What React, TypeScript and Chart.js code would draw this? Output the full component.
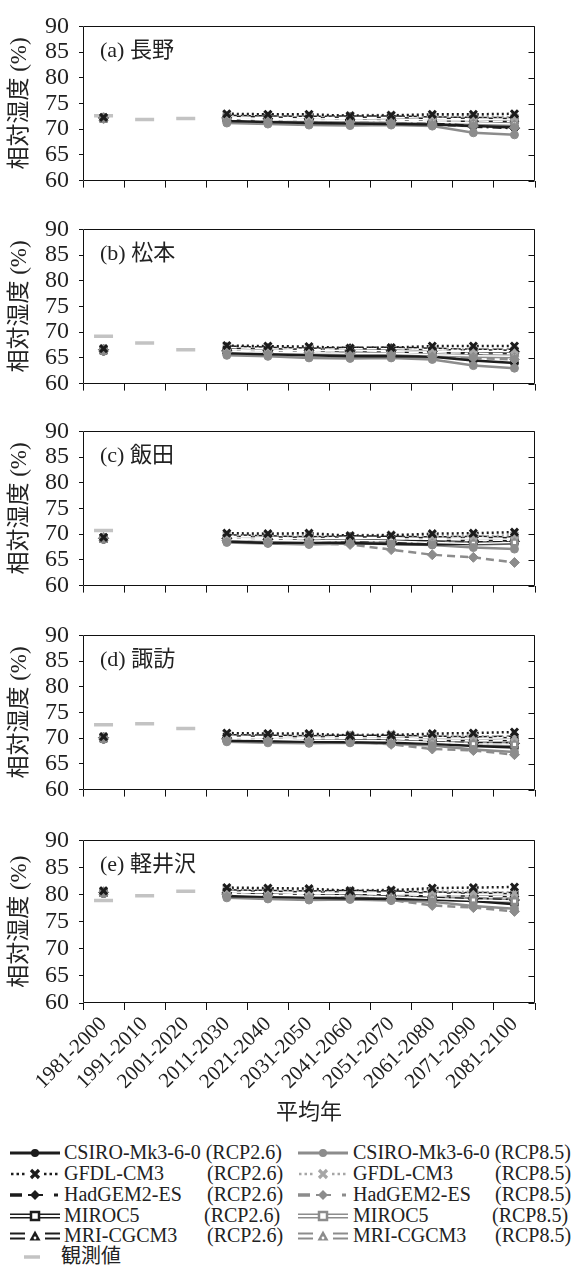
import React, { useEffect, useRef } from 'react';
import { Chart, registerables } from 'chart.js';

Chart.register(...registerables);

// ---------------- DATA ----------------
const categories = [
  '1981-2000', '1991-2010', '2001-2020', '2011-2030', '2021-2040', '2031-2050',
  '2041-2060', '2051-2070', '2061-2080', '2071-2090', '2081-2100',
];
const yTickMin = 60;
const yTickMax = 90;
const yTickStep = 5;

const panelLabels = ['(a) 長野', '(b) 松本', '(c) 飯田', '(d) 諏訪', '(e) 軽井沢'];
const modelNames = ['CSIRO-Mk3-6-0', 'GFDL-CM3', 'HadGEM2-ES', 'MIROC5', 'MRI-CGCM3'];
const obsName = '観測値';
const yTitle = '相対湿度 (%)';
const xTitle = '平均年';

// Observed values (1981-2000, 1991-2010, 2001-2020)
const naganoObs = [72.6, 71.9, 72.1];
const matsumotoObs = [69.2, 67.9, 66.6];
const iidaObs = [70.7, null, null];
const suwaObs = [72.6, 72.8, 71.9];
const karuizawaObs = [78.9, 79.8, 80.6];

// Model values: 1981-2000, then 2011-2030 ... 2081-2100
// row order: CSIRO 2.6, CSIRO 8.5, GFDL 2.6, GFDL 8.5, HadGEM 2.6, HadGEM 8.5, MIROC5 2.6, MIROC5 8.5, MRI 2.6, MRI 8.5
const naganoModels = [
  [72.0, 71.6, 71.4, 71.2, 71.1, 71.0, 70.9, 70.6, 70.4],
  [72.0, 71.2, 71.0, 70.8, 70.7, 70.8, 70.6, 69.3, 68.9],
  [72.3, 73.0, 72.9, 72.9, 72.6, 72.7, 72.9, 72.9, 73.0],
  [72.3, 72.8, 72.8, 72.5, 72.7, 72.8, 72.5, 72.5, 72.3],
  [72.2, 72.2, 72.0, 72.0, 71.8, 71.7, 71.4, 70.5, 70.2],
  [72.2, 72.0, 71.8, 71.6, 71.4, 71.2, 70.8, 70.6, 70.3],
  [72.1, 72.3, 72.1, 72.0, 72.1, 72.0, 71.8, 71.9, 71.8],
  [72.1, 72.1, 71.9, 71.8, 71.7, 71.6, 71.4, 71.2, 71.0],
  [72.2, 72.4, 72.3, 72.2, 72.3, 72.3, 72.1, 72.0, 72.0],
  [72.2, 72.0, 71.8, 71.8, 71.8, 71.7, 71.6, 71.6, 71.5],
];
const matsumotoModels = [
  [66.3, 65.9, 65.7, 65.5, 65.3, 65.3, 65.2, 64.5, 64.0],
  [66.3, 65.5, 65.3, 65.0, 64.9, 65.0, 64.7, 63.5, 63.0],
  [66.8, 67.4, 67.3, 67.2, 66.9, 67.0, 67.3, 67.3, 67.3],
  [66.8, 67.2, 67.1, 66.8, 66.9, 67.0, 66.7, 66.6, 66.5],
  [66.6, 66.5, 66.4, 66.5, 66.4, 66.4, 66.2, 65.9, 66.2],
  [66.6, 66.2, 66.0, 66.0, 65.8, 65.7, 65.3, 65.0, 64.7],
  [66.5, 66.6, 66.5, 66.4, 66.5, 66.4, 66.3, 66.3, 66.2],
  [66.5, 66.3, 66.1, 66.0, 65.9, 65.9, 65.6, 65.4, 65.3],
  [66.7, 67.0, 66.8, 66.6, 66.8, 66.8, 66.6, 66.4, 66.4],
  [66.7, 66.6, 66.3, 66.3, 66.4, 66.2, 66.0, 65.9, 65.8],
];
const iidaModels = [
  [69.0, 68.6, 68.3, 68.4, 68.3, 68.1, 68.0, 68.2, 68.3],
  [69.0, 68.4, 68.2, 68.0, 68.2, 68.1, 67.9, 67.4, 67.1],
  [69.4, 70.2, 70.1, 70.2, 69.7, 69.8, 70.1, 70.2, 70.4],
  [69.4, 69.8, 69.8, 69.7, 69.8, 69.9, 69.6, 69.6, 69.8],
  [69.2, 69.2, 69.0, 68.9, 68.7, 68.6, 68.3, 68.4, 68.6],
  [69.2, 68.8, 68.5, 68.2, 68.0, 67.0, 66.0, 65.5, 64.5],
  [69.1, 69.3, 69.2, 69.1, 69.2, 69.1, 69.0, 69.1, 69.0],
  [69.1, 69.0, 68.8, 68.7, 68.8, 68.7, 68.4, 68.2, 68.4],
  [69.3, 69.6, 69.4, 69.2, 69.4, 69.3, 69.2, 69.3, 69.2],
  [69.3, 69.2, 69.0, 69.1, 69.3, 69.2, 69.0, 68.8, 68.8],
];
const suwaModels = [
  [69.8, 69.5, 69.4, 69.3, 69.2, 69.1, 68.9, 68.5, 68.2],
  [69.8, 69.3, 69.1, 69.0, 69.1, 68.9, 68.6, 67.8, 67.3],
  [70.3, 71.0, 70.9, 70.9, 70.5, 70.6, 70.9, 71.0, 71.2],
  [70.3, 70.8, 70.8, 70.6, 70.7, 70.8, 70.5, 70.4, 70.2],
  [70.1, 70.0, 69.9, 69.8, 69.7, 69.6, 69.3, 69.0, 69.0],
  [70.1, 69.8, 69.6, 69.5, 69.4, 68.8, 67.9, 67.6, 66.8],
  [70.0, 70.2, 70.1, 70.0, 70.1, 70.0, 69.8, 69.9, 69.8],
  [70.0, 69.9, 69.8, 69.6, 69.6, 69.5, 69.2, 68.9, 68.8],
  [70.2, 70.4, 70.3, 70.2, 70.3, 70.3, 70.1, 70.0, 70.1],
  [70.2, 70.0, 69.8, 69.9, 70.0, 69.9, 69.6, 69.5, 69.5],
];
const karuizawaModels = [
  [80.2, 79.7, 79.6, 79.4, 79.3, 79.2, 79.1, 78.8, 78.2],
  [80.2, 79.4, 79.2, 79.0, 79.1, 78.9, 78.7, 77.9, 77.4],
  [80.7, 81.3, 81.2, 81.1, 80.7, 80.8, 81.2, 81.3, 81.4],
  [80.7, 81.0, 80.9, 80.7, 80.8, 80.9, 80.6, 80.5, 80.3],
  [80.4, 80.3, 80.2, 80.0, 79.8, 79.7, 79.4, 79.2, 79.0],
  [80.4, 80.0, 79.8, 79.6, 79.5, 79.0, 78.0, 77.6, 76.9],
  [80.3, 80.5, 80.4, 80.2, 80.3, 80.2, 80.0, 80.0, 79.9],
  [80.3, 80.1, 79.9, 79.8, 79.8, 79.6, 79.3, 79.0, 78.8],
  [80.5, 80.6, 80.5, 80.4, 80.5, 80.4, 80.2, 80.1, 80.1],
  [80.5, 80.2, 80.0, 80.1, 80.2, 80.0, 79.8, 79.7, 79.6],
];

const stationModels = [naganoModels, matsumotoModels, iidaModels, suwaModels, karuizawaModels];
const stationObs = [naganoObs, matsumotoObs, iidaObs, suwaObs, karuizawaObs];

// ---------------- STYLE / LAYOUT ----------------
const W = 574;
const PLOT_LEFT = 83;
const PLOT_RIGHT = 535;
const PLOT_H = 171;
const PANEL_TOPS = [18, 221, 423, 627, 832];
const PAD_TOP = 16;
const X_H = 16;
const LAST_BOTTOM = 1135;

const SERIF = "'Liberation Serif', 'Noto Sans CJK JP', serif";
const TEXT = '#222';
const BLACK = '#1c1c1c';
const GRAY = '#8c8c8c';
const LGRAY = '#a6a6a6';
const OBS = '#c3c3c3';

type Sty = {
  color: string; width: number; dash: number[]; point: string; radius: number;
  fill: string; pbw: number; double?: boolean;
};
const styles: Sty[] = [
  { color: BLACK, width: 2.5, dash: [], point: 'circle', radius: 4, fill: BLACK, pbw: 1 },
  { color: GRAY, width: 2.5, dash: [], point: 'circle', radius: 4, fill: GRAY, pbw: 1 },
  { color: BLACK, width: 2.5, dash: [2, 3], point: 'crossRot', radius: 5, fill: BLACK, pbw: 3 },
  { color: LGRAY, width: 2.5, dash: [2, 3], point: 'crossRot', radius: 5, fill: LGRAY, pbw: 3 },
  { color: BLACK, width: 2.5, dash: [9, 4, 2, 4], point: 'rectRot', radius: 5, fill: BLACK, pbw: 1 },
  { color: GRAY, width: 2.5, dash: [8, 5], point: 'rectRot', radius: 5, fill: GRAY, pbw: 1 },
  { color: BLACK, width: 4.5, dash: [], point: 'rect', radius: 4, fill: '#fff', pbw: 2.5, double: true },
  { color: GRAY, width: 4.5, dash: [], point: 'rect', radius: 4, fill: '#fff', pbw: 2.5, double: true },
  { color: BLACK, width: 4.5, dash: [10, 4], point: 'triangle', radius: 5, fill: BLACK, pbw: 1, double: true },
  { color: GRAY, width: 4.5, dash: [10, 4], point: 'triangle', radius: 5, fill: GRAY, pbw: 1, double: true },
];

function expand(v: number[]) {
  return [v[0], null, null, ...v.slice(1)];
}
function obsData(o: (number | null)[]) {
  return categories.map((_, i) => (i < o.length ? o[i] : null));
}

const framePlugin = {
  id: 'frame',
  afterDraw(chart: any, _args: any, opts: any) {
    const { ctx, chartArea: a, scales } = chart;
    ctx.save();
    ctx.strokeStyle = '#111';
    ctx.lineWidth = 1;
    const l = Math.round(a.left) + 0.5, r = Math.round(a.right) - 0.5;
    const t = Math.round(a.top) + 0.5, b = Math.round(a.bottom) - 0.5;
    ctx.beginPath();
    ctx.rect(l, t, r - l, b - t);
    scales.y.ticks.forEach((tk: any) => {
      const y = Math.round(scales.y.getPixelForValue(tk.value)) + 0.5;
      ctx.moveTo(r - 6, y);
      ctx.lineTo(r, y);
    });
    ctx.stroke();
    ctx.fillStyle = TEXT;
    ctx.font = `22px ${SERIF}`;
    ctx.textBaseline = 'middle';
    ctx.textAlign = 'left';
    ctx.fillText(opts.label, a.left + 17, a.top + 25);
    ctx.restore();
  },
};

function makeConfig(i: number): any {
  const isLast = i === 4;
  const models = stationModels[i];
  const lines: any[] = [];
  const overlays: any[] = [];
  const markers26: any[] = [];
  const markers85: any[] = [];
  models.forEach((vals, k) => {
    const s = styles[k];
    const name = `${modelNames[Math.floor(k / 2)]} (${k % 2 === 0 ? 'RCP2.6' : 'RCP8.5'})`;
    const data = expand(vals);
    lines.push({
      label: name, data, borderColor: s.color, borderWidth: s.width, borderDash: s.dash,
      pointRadius: 0, spanGaps: false, fill: false, tension: 0,
    });
    if (s.double) {
      overlays.push({
        label: name + ' inner', data, borderColor: '#ffffff', borderWidth: 1.5, borderDash: s.dash,
        pointRadius: 0, spanGaps: false, fill: false, tension: 0,
      });
    }
    const m = {
      label: name + ' marker', data, showLine: false, pointStyle: s.point, pointRadius: s.radius,
      pointBackgroundColor: s.fill, pointBorderColor: s.color, pointBorderWidth: s.pbw,
    };
    if (k % 2 === 0) markers26.push(m); else markers85.push(m);
  });
  const obs = {
    label: obsName, data: obsData(stationObs[i]), showLine: false, pointStyle: 'line',
    pointRadius: 9.5, pointBorderWidth: 3.5, pointBorderColor: OBS, pointBackgroundColor: OBS,
  };
  // index 0 is drawn on top
  const datasets = [markers26[1], ...markers85, ...markers26.filter((_, j) => j !== 1), ...overlays, ...lines, obs];

  return {
    type: 'line',
    data: { labels: categories, datasets },
    plugins: [framePlugin],
    options: {
      animation: false,
      responsive: false,
      maintainAspectRatio: false,
      devicePixelRatio: 1,
      layout: { padding: { top: PAD_TOP, left: 0, right: W - PLOT_RIGHT, bottom: 0 } },
      plugins: {
        legend: { display: false },
        tooltip: { enabled: false },
        frame: { label: panelLabels[i] },
      },
      scales: {
        x: {
          type: 'category',
          offset: true,
          grid: { offset: true, drawOnChartArea: false, drawTicks: true, tickLength: 7, color: '#111', lineWidth: 1 },
          border: { display: false },
          ticks: {
            display: isLast, autoSkip: false, maxRotation: 45, minRotation: 45,
            font: { family: SERIF, size: 21 }, color: TEXT, padding: 2,
          },
          title: {
            display: isLast, text: xTitle, color: TEXT,
            font: { family: SERIF, size: 22 }, padding: { top: 0, bottom: 9 },
          },
          afterFit: (s: any) => { s.height = isLast ? LAST_BOTTOM - (PANEL_TOPS[4] + PLOT_H) : X_H; },
        },
        y: {
          min: yTickMin, max: yTickMax,
          ticks: { stepSize: yTickStep, autoSkip: false, font: { family: SERIF, size: 24 }, color: TEXT, padding: 10 },
          grid: { drawOnChartArea: false, drawTicks: true, tickLength: 4, color: '#111', lineWidth: 1 },
          border: { display: false },
          title: {
            display: true, text: yTitle, color: TEXT,
            font: { family: SERIF, size: 23 }, padding: { top: 6, bottom: 0 },
          },
          afterFit: (s: any) => { s.width = PLOT_LEFT; },
        },
      },
    },
  };
}

// ---------------- LEGEND ----------------
function Sym({ kind, color }: { kind: string; color: string }) {
  const w = 50, h = 16, c = 8;
  if (kind === 'csiro') {
    return (
      <svg width={w} height={h}>
        <line x1={0} y1={c} x2={w} y2={c} stroke={color} strokeWidth={3} />
        <circle cx={25} cy={c} r={4} fill={color} />
      </svg>
    );
  }
  if (kind === 'gfdl') {
    return (
      <svg width={w} height={h}>
        <line x1={1} y1={c} x2={17} y2={c} stroke={color} strokeWidth={2.5} strokeDasharray="2.5 3" />
        <line x1={34} y1={c} x2={49} y2={c} stroke={color} strokeWidth={2.5} strokeDasharray="2.5 3" />
        <path d="M21 4 L29 12 M29 4 L21 12" stroke={color} strokeWidth={3.2} />
      </svg>
    );
  }
  if (kind === 'hadgem') {
    return (
      <svg width={w} height={h}>
        <line x1={0} y1={c} x2={12} y2={c} stroke={color} strokeWidth={3.5} />
        <line x1={18} y1={c} x2={33} y2={c} stroke={color} strokeWidth={2} />
        <path d="M25 3 L30 8 L25 13 L20 8 Z" fill={color} />
        <line x1={44} y1={c} x2={48} y2={c} stroke={color} strokeWidth={3} />
      </svg>
    );
  }
  if (kind === 'miroc') {
    return (
      <svg width={w} height={h}>
        <line x1={0} y1={c} x2={w} y2={c} stroke={color} strokeWidth={5} />
        <line x1={0} y1={c} x2={w} y2={c} stroke="#fff" strokeWidth={1.8} />
        <rect x={21} y={4} width={8} height={8} fill="#fff" stroke={color} strokeWidth={2.5} />
      </svg>
    );
  }
  if (kind === 'mri') {
    return (
      <svg width={w} height={h}>
        <line x1={0} y1={5.5} x2={15} y2={5.5} stroke={color} strokeWidth={2} />
        <line x1={0} y1={10.5} x2={15} y2={10.5} stroke={color} strokeWidth={2} />
        <line x1={35} y1={5.5} x2={50} y2={5.5} stroke={color} strokeWidth={2} />
        <line x1={35} y1={10.5} x2={50} y2={10.5} stroke={color} strokeWidth={2} />
        <path d="M25 2.5 L30.5 12.5 L19.5 12.5 Z" fill={color} />
        <circle cx={25} cy={10} r={1.4} fill="#fff" />
      </svg>
    );
  }
  return (
    <svg width={w} height={h}>
      <line x1={14} y1={c} x2={30} y2={c} stroke={OBS} strokeWidth={3.5} />
    </svg>
  );
}

const legendKinds = ['csiro', 'gfdl', 'hadgem', 'miroc', 'mri'];
const legendRowY = [1153, 1174, 1195, 1215.5, 1236];
const legendObsY = 1257;

function Legend() {
  const txt: React.CSSProperties = {
    position: 'absolute', fontFamily: SERIF, fontSize: 20, lineHeight: '21px',
    color: TEXT, whiteSpace: 'nowrap',
  };
  const items: React.ReactNode[] = [];
  legendKinds.forEach((k, r) => {
    const y = legendRowY[r];
    const first = r === 0;
    items.push(
      <div key={'s1' + r} style={{ position: 'absolute', left: 10, top: y - 8, height: 16 }}>
        <Sym kind={k} color={BLACK} />
      </div>,
      <div key={'s2' + r} style={{ position: 'absolute', left: 298, top: y - 8, height: 16 }}>
        <Sym kind={k} color={k === 'gfdl' ? LGRAY : GRAY} />
      </div>,
    );
    if (first) {
      items.push(
        <div key={'t1' + r} style={{ ...txt, left: 64, top: y - 11 }}>{modelNames[r]} (RCP2.6)</div>,
        <div key={'t2' + r} style={{ ...txt, left: 353, top: y - 11 }}>{modelNames[r]} (RCP8.5)</div>,
      );
    } else {
      items.push(
        <div key={'t1' + r} style={{ ...txt, left: 64, top: y - 11 }}>{modelNames[r]}</div>,
        <div key={'r1' + r} style={{ ...txt, left: k === 'miroc' ? 204 : 207, top: y - 11 }}>(RCP2.6)</div>,
        <div key={'t2' + r} style={{ ...txt, left: 353, top: y - 11 }}>{modelNames[r]}</div>,
        <div key={'r2' + r} style={{ ...txt, left: k === 'miroc' ? 492 : 495, top: y - 11 }}>(RCP8.5)</div>,
      );
    }
  });
  items.push(
    <div key="so" style={{ position: 'absolute', left: 10, top: legendObsY - 8, height: 16 }}>
      <Sym kind="obs" color={OBS} />
    </div>,
    <div key="to" style={{ ...txt, left: 61, top: legendObsY - 11 }}>{obsName}</div>,
  );
  return <>{items}</>;
}

// ---------------- APP ----------------
export default function App() {
  const refs = useRef<(HTMLCanvasElement | null)[]>([]);
  useEffect(() => {
    const charts = PANEL_TOPS.map((_, i) => new Chart(refs.current[i] as HTMLCanvasElement, makeConfig(i)));
    return () => charts.forEach((c) => c.destroy());
  }, []);
  return (
    <div style={{ position: 'absolute', left: 0, top: 0, width: W, height: 1278, background: '#fff', overflow: 'hidden' }}>
      {PANEL_TOPS.map((t, i) => {
        const top = t - PAD_TOP;
        const h = i === 4 ? LAST_BOTTOM - top : PAD_TOP + PLOT_H + X_H;
        return (
          <canvas
            key={i}
            ref={(el) => { refs.current[i] = el; }}
            width={W}
            height={h}
            style={{ position: 'absolute', left: 0, top, width: W, height: h }}
          />
        );
      })}
      <Legend />
    </div>
  );
}
